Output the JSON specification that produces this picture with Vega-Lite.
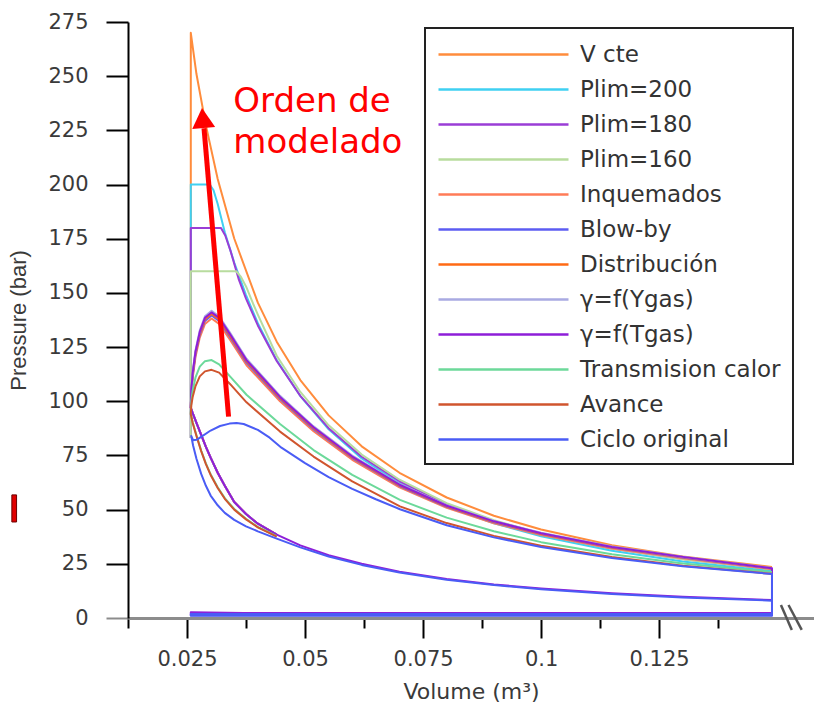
{
"$schema": "https://vega.github.io/schema/vega-lite/v6.json",
"width": 686, "height": 596,
"autosize": {"type": "none"},
"padding": {"left": 128, "top": 22, "right": 0, "bottom": 87},
"background": "white",
"config": {"view": {"stroke": null}, "font": "DejaVu Sans"},
"datasets": {
"c": [
{"s":"V cte","i":0,"v":0.0258,"p":83},{"s":"V cte","i":1,"v":0.0258,"p":270},{"s":"V cte","i":2,"v":0.027,"p":251},{"s":"V cte","i":3,"v":0.029,"p":227.3},{"s":"V cte","i":4,"v":0.0315,"p":202.6},{"s":"V cte","i":5,"v":0.035,"p":175.1},{"s":"V cte","i":6,"v":0.04,"p":145.5},{"s":"V cte","i":7,"v":0.044,"p":127.5},{"s":"V cte","i":8,"v":0.049,"p":109.8},{"s":"V cte","i":9,"v":0.055,"p":93.5},{"s":"V cte","i":10,"v":0.062,"p":79.2},{"s":"V cte","i":11,"v":0.07,"p":67},{"s":"V cte","i":12,"v":0.08,"p":55.6},{"s":"V cte","i":13,"v":0.09,"p":47.2},{"s":"V cte","i":14,"v":0.1,"p":40.8},{"s":"V cte","i":15,"v":0.115,"p":33.6},{"s":"V cte","i":16,"v":0.13,"p":28.4},{"s":"V cte","i":17,"v":0.1489,"p":23.5},

{"s":"Plim=200","i":0,"v":0.0258,"p":83},{"s":"Plim=200","i":1,"v":0.0258,"p":200},{"s":"Plim=200","i":2,"v":0.0298,"p":200},{"s":"Plim=200","i":3,"v":0.0306,"p":197.5},{"s":"Plim=200","i":4,"v":0.0315,"p":191},{"s":"Plim=200","i":5,"v":0.033,"p":178},{"s":"Plim=200","i":6,"v":0.035,"p":164},{"s":"Plim=200","i":7,"v":0.0375,"p":149},{"s":"Plim=200","i":8,"v":0.04,"p":136},{"s":"Plim=200","i":9,"v":0.044,"p":119},{"s":"Plim=200","i":10,"v":0.049,"p":102.4},{"s":"Plim=200","i":11,"v":0.055,"p":87.1},{"s":"Plim=200","i":12,"v":0.062,"p":73.6},{"s":"Plim=200","i":13,"v":0.07,"p":62.1},{"s":"Plim=200","i":14,"v":0.08,"p":51.5},{"s":"Plim=200","i":15,"v":0.09,"p":43.7},{"s":"Plim=200","i":16,"v":0.1,"p":37.7},{"s":"Plim=200","i":17,"v":0.115,"p":31},{"s":"Plim=200","i":18,"v":0.13,"p":26.1},{"s":"Plim=200","i":19,"v":0.1489,"p":21.6},

{"s":"Plim=180","i":0,"v":0.0258,"p":83},{"s":"Plim=180","i":1,"v":0.0258,"p":180},{"s":"Plim=180","i":2,"v":0.0322,"p":180},{"s":"Plim=180","i":3,"v":0.0331,"p":176.5},{"s":"Plim=180","i":4,"v":0.0342,"p":169.5},{"s":"Plim=180","i":5,"v":0.036,"p":156},{"s":"Plim=180","i":6,"v":0.0375,"p":147.4},{"s":"Plim=180","i":7,"v":0.04,"p":135},{"s":"Plim=180","i":8,"v":0.044,"p":118.6},{"s":"Plim=180","i":9,"v":0.049,"p":102.5},{"s":"Plim=180","i":10,"v":0.055,"p":87.6},{"s":"Plim=180","i":11,"v":0.062,"p":74.4},{"s":"Plim=180","i":12,"v":0.07,"p":63.1},{"s":"Plim=180","i":13,"v":0.08,"p":52.6},{"s":"Plim=180","i":14,"v":0.09,"p":44.8},{"s":"Plim=180","i":15,"v":0.1,"p":38.8},{"s":"Plim=180","i":16,"v":0.115,"p":32.1},{"s":"Plim=180","i":17,"v":0.13,"p":27.2},{"s":"Plim=180","i":18,"v":0.1489,"p":22.6},

{"s":"Plim=160","i":0,"v":0.0258,"p":83},{"s":"Plim=160","i":1,"v":0.0258,"p":160},{"s":"Plim=160","i":2,"v":0.0354,"p":160},{"s":"Plim=160","i":3,"v":0.0364,"p":157.5},{"s":"Plim=160","i":4,"v":0.0375,"p":153},{"s":"Plim=160","i":5,"v":0.039,"p":145},{"s":"Plim=160","i":6,"v":0.04,"p":140},{"s":"Plim=160","i":7,"v":0.044,"p":121},{"s":"Plim=160","i":8,"v":0.049,"p":104.3},{"s":"Plim=160","i":9,"v":0.055,"p":88.9},{"s":"Plim=160","i":10,"v":0.062,"p":75.4},{"s":"Plim=160","i":11,"v":0.07,"p":63.8},{"s":"Plim=160","i":12,"v":0.08,"p":53},{"s":"Plim=160","i":13,"v":0.09,"p":45.1},{"s":"Plim=160","i":14,"v":0.1,"p":39},{"s":"Plim=160","i":15,"v":0.115,"p":32.1},{"s":"Plim=160","i":16,"v":0.13,"p":27.1},{"s":"Plim=160","i":17,"v":0.1489,"p":22.5},

{"s":"Inquemados","i":0,"v":0.044,"p":38.5},{"s":"Inquemados","i":1,"v":0.04,"p":43.5},{"s":"Inquemados","i":2,"v":0.0375,"p":48},{"s":"Inquemados","i":3,"v":0.035,"p":53.5},{"s":"Inquemados","i":4,"v":0.033,"p":61},{"s":"Inquemados","i":5,"v":0.0315,"p":67},{"s":"Inquemados","i":6,"v":0.03,"p":74},{"s":"Inquemados","i":7,"v":0.029,"p":79},{"s":"Inquemados","i":8,"v":0.028,"p":84.5},{"s":"Inquemados","i":9,"v":0.027,"p":90},{"s":"Inquemados","i":10,"v":0.0262,"p":94.5},{"s":"Inquemados","i":11,"v":0.0258,"p":97},
{"s":"Inquemados","i":12,"v":0.0259,"p":102.9},{"s":"Inquemados","i":13,"v":0.0262,"p":110.7},{"s":"Inquemados","i":14,"v":0.0268,"p":120.5},{"s":"Inquemados","i":15,"v":0.0277,"p":129.4},{"s":"Inquemados","i":16,"v":0.0288,"p":135.7},{"s":"Inquemados","i":17,"v":0.0302,"p":138.2},{"s":"Inquemados","i":18,"v":0.0318,"p":135.7},{"s":"Inquemados","i":19,"v":0.0341,"p":128.4},{"s":"Inquemados","i":20,"v":0.0376,"p":116.6},{"s":"Inquemados","i":21,"v":0.0447,"p":100},{"s":"Inquemados","i":22,"v":0.0518,"p":86.2},{"s":"Inquemados","i":23,"v":0.06,"p":73},{"s":"Inquemados","i":24,"v":0.07,"p":60.3},{"s":"Inquemados","i":25,"v":0.08,"p":50.8},{"s":"Inquemados","i":26,"v":0.09,"p":43.7},{"s":"Inquemados","i":27,"v":0.1,"p":38.3},{"s":"Inquemados","i":28,"v":0.115,"p":32.1},{"s":"Inquemados","i":29,"v":0.13,"p":27.6},{"s":"Inquemados","i":30,"v":0.1489,"p":22.5},

{"s":"Blow-by","i":0,"v":0.044,"p":38.5},{"s":"Blow-by","i":1,"v":0.04,"p":43.5},{"s":"Blow-by","i":2,"v":0.0375,"p":48},{"s":"Blow-by","i":3,"v":0.035,"p":53.5},{"s":"Blow-by","i":4,"v":0.033,"p":61},{"s":"Blow-by","i":5,"v":0.0315,"p":67},{"s":"Blow-by","i":6,"v":0.03,"p":74},{"s":"Blow-by","i":7,"v":0.029,"p":79},{"s":"Blow-by","i":8,"v":0.028,"p":84.5},{"s":"Blow-by","i":9,"v":0.027,"p":90},{"s":"Blow-by","i":10,"v":0.0262,"p":94.5},{"s":"Blow-by","i":11,"v":0.0258,"p":97},
{"s":"Blow-by","i":12,"v":0.0259,"p":104},{"s":"Blow-by","i":13,"v":0.0262,"p":111.9},{"s":"Blow-by","i":14,"v":0.0268,"p":121.8},{"s":"Blow-by","i":15,"v":0.0277,"p":130.7},{"s":"Blow-by","i":16,"v":0.0288,"p":137.1},{"s":"Blow-by","i":17,"v":0.0302,"p":139.6},{"s":"Blow-by","i":18,"v":0.0318,"p":137.1},{"s":"Blow-by","i":19,"v":0.0341,"p":129.7},{"s":"Blow-by","i":20,"v":0.0376,"p":117.8},{"s":"Blow-by","i":21,"v":0.0447,"p":101},{"s":"Blow-by","i":22,"v":0.0518,"p":87.1},{"s":"Blow-by","i":23,"v":0.06,"p":73.8},{"s":"Blow-by","i":24,"v":0.07,"p":60.9},{"s":"Blow-by","i":25,"v":0.08,"p":51.3},{"s":"Blow-by","i":26,"v":0.09,"p":44.2},{"s":"Blow-by","i":27,"v":0.1,"p":38.7},{"s":"Blow-by","i":28,"v":0.115,"p":32.5},{"s":"Blow-by","i":29,"v":0.13,"p":27.9},{"s":"Blow-by","i":30,"v":0.1489,"p":22.8},

{"s":"Distribución","i":0,"v":0.044,"p":38.5},{"s":"Distribución","i":1,"v":0.04,"p":43.5},{"s":"Distribución","i":2,"v":0.0375,"p":48},{"s":"Distribución","i":3,"v":0.035,"p":53.5},{"s":"Distribución","i":4,"v":0.033,"p":61},{"s":"Distribución","i":5,"v":0.0315,"p":67},{"s":"Distribución","i":6,"v":0.03,"p":74},{"s":"Distribución","i":7,"v":0.029,"p":79},{"s":"Distribución","i":8,"v":0.028,"p":84.5},{"s":"Distribución","i":9,"v":0.027,"p":90},{"s":"Distribución","i":10,"v":0.0262,"p":94.5},{"s":"Distribución","i":11,"v":0.0258,"p":97},
{"s":"Distribución","i":12,"v":0.0259,"p":104.5},{"s":"Distribución","i":13,"v":0.0262,"p":112.4},{"s":"Distribución","i":14,"v":0.0268,"p":122.4},{"s":"Distribución","i":15,"v":0.0277,"p":131.3},{"s":"Distribución","i":16,"v":0.0288,"p":137.8},{"s":"Distribución","i":17,"v":0.0302,"p":140.3},{"s":"Distribución","i":18,"v":0.0318,"p":137.8},{"s":"Distribución","i":19,"v":0.0341,"p":130.3},{"s":"Distribución","i":20,"v":0.0376,"p":118.4},{"s":"Distribución","i":21,"v":0.0447,"p":101.5},{"s":"Distribución","i":22,"v":0.0518,"p":87.6},{"s":"Distribución","i":23,"v":0.06,"p":74.1},{"s":"Distribución","i":24,"v":0.07,"p":61.2},{"s":"Distribución","i":25,"v":0.08,"p":51.5},{"s":"Distribución","i":26,"v":0.09,"p":44.4},{"s":"Distribución","i":27,"v":0.1,"p":38.9},{"s":"Distribución","i":28,"v":0.115,"p":32.6},{"s":"Distribución","i":29,"v":0.13,"p":28.1},{"s":"Distribución","i":30,"v":0.1489,"p":22.9},

{"s":"γ=f(Ygas)","i":0,"v":0.044,"p":38.5},{"s":"γ=f(Ygas)","i":1,"v":0.04,"p":43.5},{"s":"γ=f(Ygas)","i":2,"v":0.0375,"p":48},{"s":"γ=f(Ygas)","i":3,"v":0.035,"p":53.5},{"s":"γ=f(Ygas)","i":4,"v":0.033,"p":61},{"s":"γ=f(Ygas)","i":5,"v":0.0315,"p":67},{"s":"γ=f(Ygas)","i":6,"v":0.03,"p":74},{"s":"γ=f(Ygas)","i":7,"v":0.029,"p":79},{"s":"γ=f(Ygas)","i":8,"v":0.028,"p":84.5},{"s":"γ=f(Ygas)","i":9,"v":0.027,"p":90},{"s":"γ=f(Ygas)","i":10,"v":0.0262,"p":94.5},{"s":"γ=f(Ygas)","i":11,"v":0.0258,"p":97},
{"s":"γ=f(Ygas)","i":12,"v":0.0259,"p":105.5},{"s":"γ=f(Ygas)","i":13,"v":0.0262,"p":113.6},{"s":"γ=f(Ygas)","i":14,"v":0.0268,"p":123.6},{"s":"γ=f(Ygas)","i":15,"v":0.0277,"p":132.7},{"s":"γ=f(Ygas)","i":16,"v":0.0288,"p":139.2},{"s":"γ=f(Ygas)","i":17,"v":0.0302,"p":141.7},{"s":"γ=f(Ygas)","i":18,"v":0.0318,"p":139.2},{"s":"γ=f(Ygas)","i":19,"v":0.0341,"p":131.7},{"s":"γ=f(Ygas)","i":20,"v":0.0376,"p":119.6},{"s":"γ=f(Ygas)","i":21,"v":0.0447,"p":102.5},{"s":"γ=f(Ygas)","i":22,"v":0.0518,"p":88.4},{"s":"γ=f(Ygas)","i":23,"v":0.06,"p":74.9},{"s":"γ=f(Ygas)","i":24,"v":0.07,"p":61.8},{"s":"γ=f(Ygas)","i":25,"v":0.08,"p":52.1},{"s":"γ=f(Ygas)","i":26,"v":0.09,"p":44.8},{"s":"γ=f(Ygas)","i":27,"v":0.1,"p":39.3},{"s":"γ=f(Ygas)","i":28,"v":0.115,"p":33},{"s":"γ=f(Ygas)","i":29,"v":0.13,"p":28.3},{"s":"γ=f(Ygas)","i":30,"v":0.1489,"p":23.1},

{"s":"γ=f(Tgas)","i":0,"v":0.1489,"p":8.3},{"s":"γ=f(Tgas)","i":1,"v":0.13,"p":9.8},{"s":"γ=f(Tgas)","i":2,"v":0.115,"p":11.4},{"s":"γ=f(Tgas)","i":3,"v":0.1,"p":13.6},{"s":"γ=f(Tgas)","i":4,"v":0.09,"p":15.5},{"s":"γ=f(Tgas)","i":5,"v":0.08,"p":18},{"s":"γ=f(Tgas)","i":6,"v":0.07,"p":21.4},{"s":"γ=f(Tgas)","i":7,"v":0.062,"p":25},{"s":"γ=f(Tgas)","i":8,"v":0.055,"p":29},{"s":"γ=f(Tgas)","i":9,"v":0.049,"p":33.5},
{"s":"γ=f(Tgas)","i":10,"v":0.044,"p":38.5},{"s":"γ=f(Tgas)","i":11,"v":0.04,"p":43.5},{"s":"γ=f(Tgas)","i":12,"v":0.0375,"p":48},{"s":"γ=f(Tgas)","i":13,"v":0.035,"p":53.5},{"s":"γ=f(Tgas)","i":14,"v":0.033,"p":61},{"s":"γ=f(Tgas)","i":15,"v":0.0315,"p":67},{"s":"γ=f(Tgas)","i":16,"v":0.03,"p":74},{"s":"γ=f(Tgas)","i":17,"v":0.029,"p":79},{"s":"γ=f(Tgas)","i":18,"v":0.028,"p":84.5},{"s":"γ=f(Tgas)","i":19,"v":0.027,"p":90},{"s":"γ=f(Tgas)","i":20,"v":0.0262,"p":94.5},{"s":"γ=f(Tgas)","i":21,"v":0.0258,"p":97},
{"s":"γ=f(Tgas)","i":22,"v":0.0259,"p":105},{"s":"γ=f(Tgas)","i":23,"v":0.0262,"p":113},{"s":"γ=f(Tgas)","i":24,"v":0.0268,"p":123},{"s":"γ=f(Tgas)","i":25,"v":0.0277,"p":132},{"s":"γ=f(Tgas)","i":26,"v":0.0288,"p":138.5},{"s":"γ=f(Tgas)","i":27,"v":0.0302,"p":141},{"s":"γ=f(Tgas)","i":28,"v":0.0318,"p":138.5},{"s":"γ=f(Tgas)","i":29,"v":0.0341,"p":131},{"s":"γ=f(Tgas)","i":30,"v":0.0376,"p":119},{"s":"γ=f(Tgas)","i":31,"v":0.0447,"p":102},{"s":"γ=f(Tgas)","i":32,"v":0.0518,"p":88},{"s":"γ=f(Tgas)","i":33,"v":0.06,"p":74.5},{"s":"γ=f(Tgas)","i":34,"v":0.07,"p":61.5},{"s":"γ=f(Tgas)","i":35,"v":0.08,"p":51.8},{"s":"γ=f(Tgas)","i":36,"v":0.09,"p":44.6},{"s":"γ=f(Tgas)","i":37,"v":0.1,"p":39.1},{"s":"γ=f(Tgas)","i":38,"v":0.115,"p":32.8},{"s":"γ=f(Tgas)","i":39,"v":0.13,"p":28.2},{"s":"γ=f(Tgas)","i":40,"v":0.1489,"p":23},
{"s":"γ=f(Tgas)","i":41,"v":0.1489,"p":2.3},{"s":"γ=f(Tgas)","i":42,"v":0.037,"p":2.3},{"s":"γ=f(Tgas)","i":43,"v":0.0258,"p":2.7},{"s":"γ=f(Tgas)","i":44,"v":0.0258,"p":1.3},{"s":"γ=f(Tgas)","i":45,"v":0.1489,"p":1.3},{"s":"γ=f(Tgas)","i":46,"v":0.1489,"p":8.3},

{"s":"Transmision calor","i":0,"v":0.044,"p":37.8},{"s":"Transmision calor","i":1,"v":0.04,"p":42},{"s":"Transmision calor","i":2,"v":0.0375,"p":45.8},{"s":"Transmision calor","i":3,"v":0.035,"p":50.3},{"s":"Transmision calor","i":4,"v":0.033,"p":55.3},{"s":"Transmision calor","i":5,"v":0.0315,"p":60.3},{"s":"Transmision calor","i":6,"v":0.03,"p":66.3},{"s":"Transmision calor","i":7,"v":0.029,"p":71.3},{"s":"Transmision calor","i":8,"v":0.028,"p":77.3},{"s":"Transmision calor","i":9,"v":0.027,"p":84.3},{"s":"Transmision calor","i":10,"v":0.0262,"p":90.3},{"s":"Transmision calor","i":11,"v":0.0258,"p":94.3},
{"s":"Transmision calor","i":12,"v":0.0259,"p":100},{"s":"Transmision calor","i":13,"v":0.0262,"p":105},{"s":"Transmision calor","i":14,"v":0.0268,"p":111},{"s":"Transmision calor","i":15,"v":0.0277,"p":116},{"s":"Transmision calor","i":16,"v":0.0288,"p":118.5},{"s":"Transmision calor","i":17,"v":0.0302,"p":119},{"s":"Transmision calor","i":18,"v":0.0318,"p":117},{"s":"Transmision calor","i":19,"v":0.0341,"p":111.5},{"s":"Transmision calor","i":20,"v":0.0376,"p":103},{"s":"Transmision calor","i":21,"v":0.0447,"p":89.5},{"s":"Transmision calor","i":22,"v":0.0518,"p":77.5},{"s":"Transmision calor","i":23,"v":0.06,"p":66},{"s":"Transmision calor","i":24,"v":0.0701,"p":54.5},{"s":"Transmision calor","i":25,"v":0.08,"p":46.3},{"s":"Transmision calor","i":26,"v":0.09,"p":40},{"s":"Transmision calor","i":27,"v":0.1,"p":35},{"s":"Transmision calor","i":28,"v":0.115,"p":29.4},{"s":"Transmision calor","i":29,"v":0.13,"p":25.2},{"s":"Transmision calor","i":30,"v":0.1489,"p":21.2},

{"s":"Avance","i":0,"v":0.044,"p":37.5},{"s":"Avance","i":1,"v":0.04,"p":41.8},{"s":"Avance","i":2,"v":0.0375,"p":45.5},{"s":"Avance","i":3,"v":0.035,"p":50},{"s":"Avance","i":4,"v":0.033,"p":55},{"s":"Avance","i":5,"v":0.0315,"p":60},{"s":"Avance","i":6,"v":0.03,"p":66},{"s":"Avance","i":7,"v":0.029,"p":71},{"s":"Avance","i":8,"v":0.028,"p":77},{"s":"Avance","i":9,"v":0.027,"p":84},{"s":"Avance","i":10,"v":0.0262,"p":90},{"s":"Avance","i":11,"v":0.0258,"p":94},
{"s":"Avance","i":12,"v":0.0259,"p":98},{"s":"Avance","i":13,"v":0.0262,"p":102},{"s":"Avance","i":14,"v":0.0268,"p":107},{"s":"Avance","i":15,"v":0.0277,"p":111.5},{"s":"Avance","i":16,"v":0.0288,"p":113.8},{"s":"Avance","i":17,"v":0.0302,"p":114.5},{"s":"Avance","i":18,"v":0.0318,"p":113.2},{"s":"Avance","i":19,"v":0.0341,"p":108},{"s":"Avance","i":20,"v":0.0376,"p":99.5},{"s":"Avance","i":21,"v":0.0447,"p":86},{"s":"Avance","i":22,"v":0.0518,"p":74.5},{"s":"Avance","i":23,"v":0.06,"p":63},{"s":"Avance","i":24,"v":0.0701,"p":51.5},{"s":"Avance","i":25,"v":0.08,"p":43.8},{"s":"Avance","i":26,"v":0.09,"p":37.9},{"s":"Avance","i":27,"v":0.1,"p":33.3},{"s":"Avance","i":28,"v":0.115,"p":28.1},{"s":"Avance","i":29,"v":0.13,"p":24.1},{"s":"Avance","i":30,"v":0.1489,"p":20.4},

{"s":"Ciclo original","i":0,"v":0.1489,"p":8},{"s":"Ciclo original","i":1,"v":0.13,"p":9.5},{"s":"Ciclo original","i":2,"v":0.115,"p":11.1},{"s":"Ciclo original","i":3,"v":0.1,"p":13.3},{"s":"Ciclo original","i":4,"v":0.09,"p":15.2},{"s":"Ciclo original","i":5,"v":0.08,"p":17.7},{"s":"Ciclo original","i":6,"v":0.07,"p":21},{"s":"Ciclo original","i":7,"v":0.062,"p":24.5},{"s":"Ciclo original","i":8,"v":0.055,"p":28.4},{"s":"Ciclo original","i":9,"v":0.049,"p":32.6},{"s":"Ciclo original","i":10,"v":0.044,"p":36.6},{"s":"Ciclo original","i":11,"v":0.04,"p":40},{"s":"Ciclo original","i":12,"v":0.0375,"p":42.3},{"s":"Ciclo original","i":13,"v":0.035,"p":45.3},{"s":"Ciclo original","i":14,"v":0.033,"p":48.5},{"s":"Ciclo original","i":15,"v":0.0315,"p":52},{"s":"Ciclo original","i":16,"v":0.03,"p":56.5},{"s":"Ciclo original","i":17,"v":0.029,"p":61},{"s":"Ciclo original","i":18,"v":0.028,"p":66.5},{"s":"Ciclo original","i":19,"v":0.027,"p":73.5},{"s":"Ciclo original","i":20,"v":0.0263,"p":79.5},{"s":"Ciclo original","i":21,"v":0.0259,"p":84},
{"s":"Ciclo original","i":22,"v":0.0263,"p":82},{"s":"Ciclo original","i":23,"v":0.027,"p":82.2},{"s":"Ciclo original","i":24,"v":0.028,"p":83.6},{"s":"Ciclo original","i":25,"v":0.03,"p":86.5},{"s":"Ciclo original","i":26,"v":0.032,"p":88.6},{"s":"Ciclo original","i":27,"v":0.034,"p":89.7},{"s":"Ciclo original","i":28,"v":0.0355,"p":90},{"s":"Ciclo original","i":29,"v":0.037,"p":89.5},{"s":"Ciclo original","i":30,"v":0.04,"p":86.8},{"s":"Ciclo original","i":31,"v":0.0425,"p":83.2},{"s":"Ciclo original","i":32,"v":0.045,"p":78.6},{"s":"Ciclo original","i":33,"v":0.05,"p":71.5},{"s":"Ciclo original","i":34,"v":0.055,"p":65},{"s":"Ciclo original","i":35,"v":0.06,"p":59.6},{"s":"Ciclo original","i":36,"v":0.065,"p":54.8},{"s":"Ciclo original","i":37,"v":0.0701,"p":50.2},{"s":"Ciclo original","i":38,"v":0.08,"p":42.8},{"s":"Ciclo original","i":39,"v":0.09,"p":37.2},{"s":"Ciclo original","i":40,"v":0.1,"p":32.8},{"s":"Ciclo original","i":41,"v":0.115,"p":27.7},{"s":"Ciclo original","i":42,"v":0.13,"p":23.9},{"s":"Ciclo original","i":43,"v":0.1489,"p":20.3},
{"s":"Ciclo original","i":44,"v":0.1489,"p":1.9},{"s":"Ciclo original","i":45,"v":0.0258,"p":1.9},{"s":"Ciclo original","i":46,"v":0.0258,"p":1.0},{"s":"Ciclo original","i":47,"v":0.1489,"p":1.0},{"s":"Ciclo original","i":48,"v":0.1489,"p":8}
],
"arrow": [{"v": 0.0338, "p": 92.9, "v2": 0.0286, "p2": 226}],
"head": [{"v": 0.02835, "p": 230.7}],
"label": [{"v": 0.0348, "p": 233.6, "t": ["Orden de", "modelado"]}],
"brk": [{"v": 0.1508, "p": 6.0, "v2": 0.1531, "p2": -5.5}, {"v": 0.1524, "p": 6.0, "v2": 0.1552, "p2": -5.5}],
"mark": [{"v": -0.0121, "p": 56.8, "v2": -0.0111, "p2": 44.3}]
},
"layer": [
{
"data": {"name": "c"},
"mark": {"type": "line", "interpolate": "linear", "strokeWidth": 2, "strokeJoin": "round"},
"encoding": {
"x": {"field": "v", "type": "quantitative", "scale": {"domain": [0.0125, 0.1578], "nice": false, "zero": false},
 "axis": {"title": "Volume (m³)", "grid": false,
  "values": [0.0125, 0.025, 0.0375, 0.05, 0.0625, 0.075, 0.0875, 0.1, 0.1125, 0.125, 0.1375],
  "labelExpr": "round(datum.value*80) % 2 === 0 ? format(datum.value, '~g') : ''",
  "tickSize": {"condition": {"test": "round(datum.value*80) % 2 === 0", "value": 20}, "value": 10},
  "tickColor": "#000", "tickWidth": 2, "domainColor": "#8c8c8c", "domainWidth": 3,
  "labelFont": "DejaVu Sans", "labelFontSize": 21, "labelColor": "#3a3a3a", "labelPadding": 10,
  "labelFlush": false, "labelOverlap": false,
  "titleFont": "DejaVu Sans", "titleFontSize": 22, "titleFontWeight": "normal", "titleColor": "#3a3a3a", "titlePadding": 12}},
"y": {"field": "p", "type": "quantitative", "scale": {"domain": [0, 275], "nice": false},
 "axis": {"title": "Pressure (bar)", "grid": false,
  "values": [0, 12.5, 25, 37.5, 50, 62.5, 75, 87.5, 100, 112.5, 125, 137.5, 150, 162.5, 175, 187.5, 200, 212.5, 225, 237.5, 250, 262.5, 275],
  "labelExpr": "datum.value % 25 === 0 ? format(datum.value, 'd') : ''",
  "tickSize": {"condition": {"test": "datum.value % 25 === 0", "value": 22}, "value": 11},
  "tickColor": {"condition": {"test": "datum.value === 0", "value": "#8c8c8c"}, "value": "#000"},
  "tickWidth": 2, "domainColor": "#000", "domainWidth": 2,
  "labelFont": "DejaVu Sans", "labelFontSize": 21, "labelColor": "#3a3a3a", "labelPadding": 18,
  "labelFlush": false, "labelOverlap": false,
  "titleFont": "Liberation Sans", "titleFontSize": 22, "titleFontWeight": "normal", "titleColor": "#3a3a3a", "titlePadding": 17}},
"color": {"field": "s", "type": "nominal",
 "scale": {"domain": ["V cte", "Plim=200", "Plim=180", "Plim=160", "Inquemados", "Blow-by", "Distribución", "γ=f(Ygas)", "γ=f(Tgas)", "Transmision calor", "Avance", "Ciclo original"],
  "range": ["#FF8C3C", "#3FD0F2", "#9A3DD6", "#B8DC9E", "#FF7B57", "#5C5CF2", "#FF6A14", "#A9AAE2", "#8E1ED8", "#6CD99A", "#D0552E", "#4A5CF5"]},
 "legend": {"title": null, "orient": "none", "legendX": 297, "legendY": 6,
  "symbolType": "M-1,0H9", "symbolSize": 676, "symbolStrokeWidth": 2.5,
  "labelOffset": 114, "labelFont": "DejaVu Sans", "labelFontSize": 23, "labelColor": "#333", "labelLimit": 400,
  "rowPadding": 8, "padding": 12, "strokeColor": "#222", "fillColor": "white",
  "encode": {"legend": {"update": {"strokeWidth": {"value": 2}}}}}},
"order": {"field": "i", "type": "quantitative"}
}
},
{
"data": {"name": "arrow"},
"mark": {"type": "rule", "color": "#FF0000", "strokeWidth": 5},
"encoding": {"x": {"field": "v", "type": "quantitative"}, "y": {"field": "p", "type": "quantitative"}, "x2": {"field": "v2"}, "y2": {"field": "p2"}}
},
{
"data": {"name": "head"},
"mark": {"type": "point", "shape": "triangle-up", "filled": true, "size": 529, "angle": -5, "color": "#FF0000", "opacity": 1},
"encoding": {"x": {"field": "v", "type": "quantitative"}, "y": {"field": "p", "type": "quantitative"}}
},
{
"data": {"name": "label"},
"mark": {"type": "text", "align": "left", "baseline": "alphabetic", "font": "DejaVu Sans", "fontSize": 34, "lineHeight": 41, "color": "#FF0000"},
"encoding": {"x": {"field": "v", "type": "quantitative"}, "y": {"field": "p", "type": "quantitative"}, "text": {"field": "t"}}
},
{
"data": {"name": "brk"},
"mark": {"type": "rule", "color": "#555555", "strokeWidth": 2.5},
"encoding": {"x": {"field": "v", "type": "quantitative"}, "y": {"field": "p", "type": "quantitative"}, "x2": {"field": "v2"}, "y2": {"field": "p2"}}
},
{
"data": {"name": "mark"},
"mark": {"type": "rect", "fill": "#E00000", "stroke": "#6a0000", "strokeWidth": 1},
"encoding": {"x": {"field": "v", "type": "quantitative"}, "y": {"field": "p", "type": "quantitative"}, "x2": {"field": "v2"}, "y2": {"field": "p2"}}
}
]
}
